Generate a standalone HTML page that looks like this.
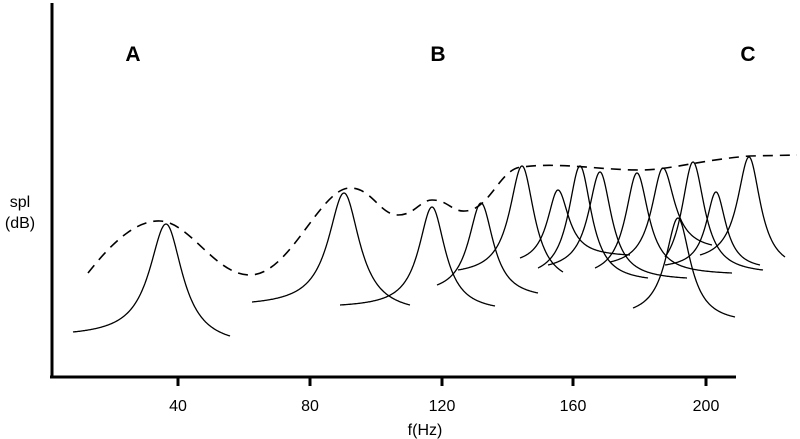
<!DOCTYPE html>
<html><head><meta charset="utf-8"><style>
html,body{margin:0;padding:0;background:#fff;}
svg{display:block;}
text{font-family:"Liberation Sans",sans-serif;fill:#000;}
</style></head><body>
<svg id="s" width="800" height="439" viewBox="0 0 800 439" xmlns="http://www.w3.org/2000/svg">
<line x1="52" y1="3" x2="52" y2="378" stroke="#000" stroke-width="3"/>
<line x1="50" y1="377" x2="736" y2="377" stroke="#000" stroke-width="3"/>
<g stroke="#000" stroke-width="3">
<line x1="178" y1="377" x2="178" y2="386"/>
<line x1="310" y1="377" x2="310" y2="386"/>
<line x1="442" y1="377" x2="442" y2="386"/>
<line x1="573" y1="377" x2="573" y2="386"/>
<line x1="706" y1="377" x2="706" y2="386"/>
</g>
<g font-size="16" text-anchor="middle">
<text x="178" y="411">40</text>
<text x="310" y="411">80</text>
<text x="442" y="411">120</text>
<text x="573" y="411">160</text>
<text x="706" y="411">200</text>
<text x="425" y="435">f(Hz)</text>
<text x="20" y="207">spl</text>
<text x="20" y="228">(dB)</text>
</g>
<g font-size="21" font-weight="bold" text-anchor="middle">
<text x="133" y="61">A</text>
<text x="438" y="61">B</text>
<text x="748" y="61">C</text>
</g>
<path d="M88,273 C110,245 135,220 160,221 C190,222 215,275 250,275 C290,275 320,188 350,188 C372,188 380,215 398,215 C415,215 420,200 432,200 C448,200 452,212 465,211 C490,210 500,168 522,167 C560,162 600,170 640,170 C670,170 700,160 750,156 L797,155" fill="none" stroke="#000" stroke-width="1.6" stroke-dasharray="10,7"/>
<g id="peaks" fill="none" stroke="#000" stroke-width="1.3"></g>
</svg>
<script>
var P=[[73,332,166,224,230,336,20],[252,302,344,193,410,305,19],[340,305,432,207,495,306,16],[437,285,481,203,538,293,15],[458,270,522,166,563,272,15],[520,258,558,190,630,255,13],[538,268,580,166,648,278,14],[548,265,600,172,687,278,14],[595,268,637,173,732,273,14],[610,262,663,168,712,245,14],[665,257,693,162,763,270,14],[633,308,678,218,735,317,15],[665,265,716,192,760,265,12],[700,255,749,157,785,257,14]];
var g=document.getElementById('peaks'),NS='http://www.w3.org/2000/svg';
P.forEach(function(p){var x0=p[0],y0=p[1],px=p[2],py=p[3],x1=p[4],y1=p[5],w=p[6],d='';
function f(x,xe,ye){var u=(x-px)/w,U=(xe-px)/w;return py+(ye-py)*(u*u/(1+u*u))/(U*U/(1+U*U));}
for(var x=x0;x<=px;x+=0.5){d+=(d?'L':'M')+x.toFixed(1)+','+f(x,x0,y0).toFixed(1);}
for(var x=px;x<=x1;x+=0.5){d+='L'+x.toFixed(1)+','+f(x,x1,y1).toFixed(1);}
var e=document.createElementNS(NS,'path');e.setAttribute('d',d);g.appendChild(e);});
</script>
</body></html>
